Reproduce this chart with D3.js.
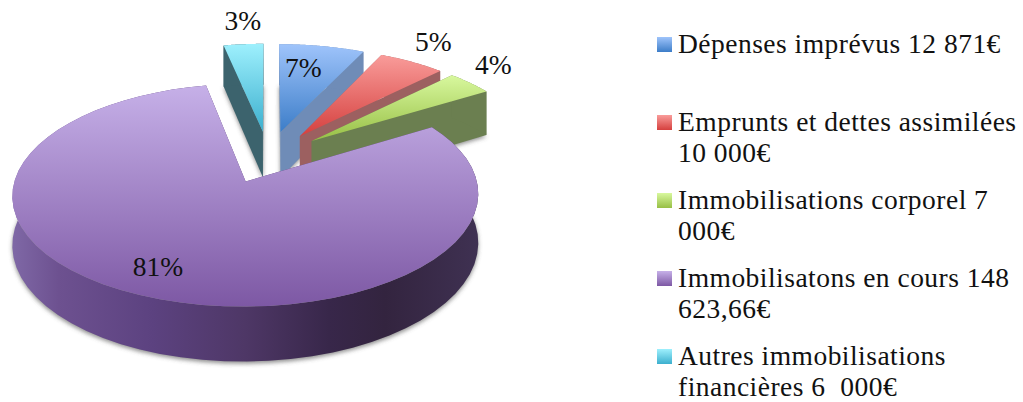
<!DOCTYPE html>
<html lang="fr">
<head>
    <meta charset="UTF-8">
    <title>Pie</title>
    <script src="https://d3js.org/d3.v7.min.js"></script>
    <style>
        html,body{margin:0;padding:0;background:#fff;}
        svg{display:block;}
        text{font-family:"Liberation Serif",serif;font-size:27.5px;fill:#111;white-space:pre;}
        .legend text{letter-spacing:0.48px;}
    </style>
</head>
<body>
<svg width="1023" height="402" viewBox="0 0 1023 402"></svg>
<script>
    const categories = ["Dépenses imprévus", "Emprunts et dettes assimilées", "Immobilisations corporel", "Immobilisatons en cours", "Autres immobilisations financières"];
    const amounts = [12871, 10000, 7000, 148623.66, 6000];
    const percentLabels = ["7%", "5%", "4%", "81%", "3%"];
    const legendLines = [
        ["Dépenses imprévus 12 871€"],
        ["Emprunts et dettes assimilées", "10 000€"],
        ["Immobilisations corporel 7", "000€"],
        ["Immobilisatons en cours 148", "623,66€"],
        ["Autres immobilisations", "financières 6  000€"]
    ];

    const topLight = ["#9fc4fb", "#f99c9a", "#d8f89e", "#c6b0e8", "#9ef0fd"];
    const topDark = ["#3c7dc8", "#d5403e", "#97bf45", "#7d58a4", "#3cafce"];
    const faceColor = ["#6f8cb7", "#9c6060", "#6b7f50", "#54396f", "#3c636d"];
    const legendY = [37, 115, 193, 271, 349];   // top of each swatch
    const labelNudge = [[-37, 31], [3, -11], [5, -9], [-7, -19], [-19, -14]];   // from the slice's rim point

    const svg = d3.select("svg");
    const defs = svg.append("defs");

    // perspective of the pie plane: x to the right, y towards the viewer, radius 1
    const explode = 0.25, tilt = 0.118, depth = 47;
    const xScale = d3.scaleLinear().domain([-1, 1]).range([268.5 - 225, 268.5 + 225]);
    const yScale = d3.scaleLinear().domain([-1, 1]).range([157 - 104, 157 + 104]);

    const project = (x, y, z) => {
        const s = 1 / (1 - tilt * y);
        return [xScale(x * s), yScale(y * s) + z * depth * s];
    };

    const arcs = d3.pie().sort(null)(amounts);
    const line = d3.line();

    // a point of one slice, angle clockwise from the top
    const slicePoint = (d, angle, r, z) => {
        const mid = (d.startAngle + d.endAngle) / 2;
        return project(explode * Math.sin(mid) + r * Math.sin(angle), -explode * Math.cos(mid) - r * Math.cos(angle), z);
    };
    const rimAngles = d => d3.range(0, 61).map(i => d.startAngle + (d.endAngle - d.startAngle) * i / 60);
    const sector = (d, z) => line([slicePoint(d, 0, 0, z), ...rimAngles(d).map(a => slicePoint(d, a, 1, z))]) + "Z";
    const face = (d, angle) => line([slicePoint(d, 0, 0, 0), slicePoint(d, angle, 1, 0), slicePoint(d, angle, 1, 1), slicePoint(d, 0, 0, 1)]) + "Z";
    const rimWall = d => line([...rimAngles(d).map(a => slicePoint(d, a, 1, 0)), ...rimAngles(d).reverse().map(a => slicePoint(d, a, 1, 1))]) + "Z";

    // gradients
    topLight.forEach((c, i) => {
        const g = defs.append("linearGradient").attr("id", "top" + i).attr("x1", 0).attr("y1", 0).attr("x2", 0).attr("y2", 1);
        g.append("stop").attr("offset", 0).attr("stop-color", c);
        g.append("stop").attr("offset", 1).attr("stop-color", topDark[i]);
    });
    const wallGrad = defs.append("linearGradient").attr("id", "purpleWall").attr("x1", 0).attr("y1", 0).attr("x2", 1).attr("y2", 0);
    [[0, "#7f68a6"], [0.1, "#6d5190"], [0.3, "#5c4280"], [0.5, "#4e3766"], [0.68, "#38274a"], [0.8, "#33243f"], [1, "#3f3152"]]
        .forEach(s => wallGrad.append("stop").attr("offset", s[0]).attr("stop-color", s[1]));
    defs.append("filter").attr("id", "soft").attr("x", "-20%").attr("y", "-20%").attr("width", "140%").attr("height", "140%")
        .append("feGaussianBlur").attr("stdDeviation", 2.2);

    // back slices first so the nearer ones cover them
    [0, 1, 2, 4, 3].forEach(i => {
        const d = arcs[i];
        const g = svg.append("g");
        g.append("path").attr("d", sector(d, 1.04)).attr("fill", "#555").attr("fill-opacity", 0.65).attr("filter", "url(#soft)");
        const wallFill = i === 3 ? "url(#purpleWall)" : faceColor[i];
        g.append("path").attr("d", face(d, d.startAngle)).attr("fill", faceColor[i]);
        g.append("path").attr("d", face(d, d.endAngle)).attr("fill", faceColor[i]);
        g.append("path").attr("d", rimWall(d)).attr("fill", wallFill);
        g.append("path").attr("d", sector(d, 0)).attr("fill", `url(#top${i})`);
    });

    // value labels
    svg.append("g").selectAll("text").data(arcs).join("text")
        .attr("x", (d, i) => slicePoint(d, (d.startAngle + d.endAngle) / 2, 1, 0)[0] + labelNudge[i][0])
        .attr("y", (d, i) => slicePoint(d, (d.startAngle + d.endAngle) / 2, 1, 0)[1] + labelNudge[i][1])
        .text((d, i) => percentLabels[i]);

    // legend
    const legend = svg.append("g").attr("class", "legend");
    categories.forEach((name, i) => {
        legend.append("rect").attr("x", 657).attr("y", legendY[i]).attr("width", 15).attr("height", 15).attr("fill", `url(#top${i})`);
        legendLines[i].forEach((t, j) => {
            legend.append("text").attr("x", 678).attr("y", legendY[i] + 16 + j * 31).text(t);
        });
    });
</script>
</body>
</html>
